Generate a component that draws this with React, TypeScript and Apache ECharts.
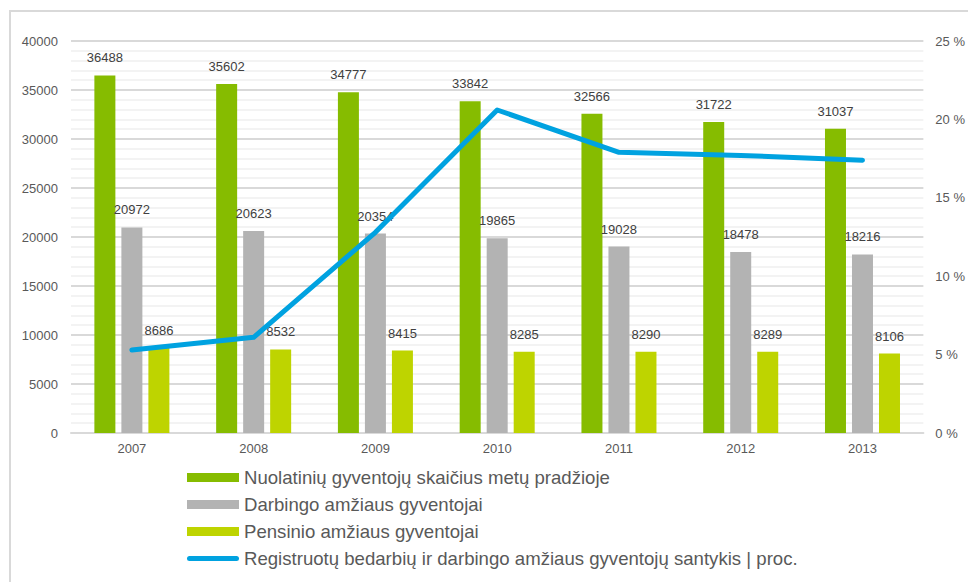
import React, { useEffect, useRef } from "react";
import * as echarts from "echarts";

const categories = ["2007", "2008", "2009", "2010", "2011", "2012", "2013"];
const residents = [36488, 35602, 34777, 33842, 32566, 31722, 31037];
const workingAge = [20972, 20623, 20354, 19865, 19028, 18478, 18216];
const pensionAge = [8686, 8532, 8415, 8285, 8290, 8289, 8106];
const unemploymentRatio = [5.3, 6.1, 12.8, 20.6, 17.9, 17.7, 17.4];

const seriesNames = [
  "Nuolatinių gyventojų skaičius metų pradžioje",
  "Darbingo amžiaus gyventojai",
  "Pensinio amžiaus gyventojai",
  "Registruotų bedarbių ir darbingo amžiaus gyventojų santykis | proc.",
];

const FONT = "'Liberation Sans', Arial, sans-serif";
const LINE_ICON = "path://M2.6,0 H51.4 A2.6,2.6 0 0 1 51.4,5.2 H2.6 A2.6,2.6 0 0 1 2.6,0 Z";

export default function App() {
  const ref = useRef<HTMLDivElement>(null);
  useEffect(() => {
    if (!ref.current) return;
    const chart = echarts.init(ref.current, null, { renderer: "svg" });
    const barLabel = {
      show: true,
      position: "top" as const,
      distance: 11,
      color: "#404040",
      fontSize: 13,
      fontFamily: FONT,
    };
    chart.setOption({
      animation: false,
      textStyle: { fontFamily: FONT },
      graphic: [
        {
          type: "rect",
          shape: { x: 10, y: 11, width: 980, height: 600 },
          style: { fill: "none", stroke: "#d9d9d9", lineWidth: 2 },
          silent: true,
        },
      ],
      grid: { left: 71, right: 44, top: 41, bottom: 149 },
      legend: {
        orient: "vertical",
        left: 187,
        top: 468,
        padding: 0,
        itemWidth: 52,
        itemHeight: 9,
        itemGap: 8,
        symbolKeepAspect: true,
        textStyle: { color: "#595959", fontSize: 18.6, fontFamily: FONT },
        data: [
          { name: seriesNames[0], icon: "rect" },
          { name: seriesNames[1], icon: "rect" },
          { name: seriesNames[2], icon: "rect" },
          { name: seriesNames[3], icon: LINE_ICON, itemStyle: { color: "#00a2e0", borderWidth: 0 } },
        ],
      },
      xAxis: {
        type: "category",
        data: categories,
        axisTick: { show: false },
        axisLine: { lineStyle: { color: "#d9d9d9", width: 2 } },
        axisLabel: { color: "#595959", fontSize: 13, margin: 9 },
      },
      yAxis: [
        {
          type: "value",
          min: 0,
          max: 40000,
          interval: 5000,
          axisLabel: {
            color: "#595959",
            fontSize: 13,
            margin: 13,
            formatter: (v: number) => String(v),
          },
          axisLine: { show: false },
          axisTick: { show: false },
          splitLine: { lineStyle: { color: "#d9d9d9", width: 2 } },
          minorTick: { show: false, splitNumber: 5 },
          minorSplitLine: { show: true, lineStyle: { color: "#efefef", width: 1.5 } },
        },
        {
          type: "value",
          min: 0,
          max: 25,
          interval: 5,
          position: "right",
          axisLabel: { color: "#595959", fontSize: 13, margin: 12, formatter: "{value} %" },
          axisLine: { show: false },
          axisTick: { show: false },
          splitLine: { show: false },
        },
      ],
      series: [
        {
          name: seriesNames[0],
          type: "bar",
          data: residents,
          barWidth: 21,
          barGap: "28.6%",
          itemStyle: { color: "#86bc00" },
          label: barLabel,
        },
        {
          name: seriesNames[1],
          type: "bar",
          data: workingAge,
          barWidth: 21,
          barGap: "28.6%",
          itemStyle: { color: "#b3b3b3" },
          label: barLabel,
        },
        {
          name: seriesNames[2],
          type: "bar",
          data: pensionAge,
          barWidth: 21,
          barGap: "28.6%",
          itemStyle: { color: "#bed400" },
          label: barLabel,
        },
        {
          name: seriesNames[3],
          type: "line",
          yAxisIndex: 1,
          data: unemploymentRatio,
          symbol: "none",
          z: 5,
          itemStyle: { color: "#00a2e0" },
          lineStyle: { color: "#00a2e0", width: 5, cap: "round", join: "round" },
        },
      ],
    });
    return () => chart.dispose();
  }, []);
  return (
    <div
      ref={ref}
      style={{ position: "fixed", left: 0, top: 0, width: 968, height: 582, background: "#fff" }}
    />
  );
}
